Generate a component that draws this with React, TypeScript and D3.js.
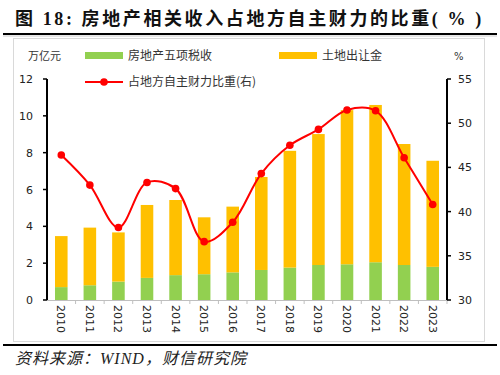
import React from "react";
import * as d3 from "d3";

const years = ["2010","2011","2012","2013","2014","2015","2016","2017","2018","2019","2020","2021","2022","2023"];
const taxValues = [0.7,0.8,1.0,1.2,1.35,1.4,1.5,1.63,1.76,1.9,1.94,2.05,1.9,1.8];
const landValues = [2.77,3.13,2.67,3.96,4.08,3.09,3.57,5.05,6.34,7.11,8.37,8.54,6.57,5.76];
const shareValues = [46.4,43.0,38.2,43.3,42.6,36.6,38.8,44.3,47.5,49.3,51.5,51.4,46.1,40.8];
const leftTicks = [0,2,4,6,8,10,12];
const rightTicks = [30,35,40,45,50,55];

const GREEN = "#92D050";
const ORANGE = "#FFC000";
const RED = "#FF0000";
const sans = "'DejaVu Sans', 'Noto Sans CJK SC', sans-serif";
const cjk = "'Noto Sans CJK SC', sans-serif";

export default function App() {
  const left = 47, right = 447, top = 79, bottom = 300;
  const x = d3.scaleBand<string>().domain(years).range([left, right]).paddingInner(0.56).paddingOuter(0.28);
  const band = d3.scaleBand<string>().domain(years).range([left, right]);
  const yL = d3.scaleLinear().domain([0, 12]).range([bottom, top]);
  const yR = d3.scaleLinear().domain([30, 55]).range([bottom, top]);
  const line = d3.line<number>()
    .x((_, i) => (band(years[i]) as number) + band.bandwidth() / 2)
    .y((d) => yR(d))
    .curve(d3.curveCatmullRom.alpha(0.5));

  return (
    <svg width={500} height={375} style={{ position: "absolute", left: 0, top: 0, background: "#fff" }}>
      <text x={15} y={25} fontFamily="'Liberation Serif', 'Noto Sans CJK SC', serif" fontWeight="bold" fontSize={18} letterSpacing={2.6} fill="#111">
        图 18: 房地产相关收入占地方自主财力的比重( % )
      </text>
      <line x1={3} x2={497} y1={34} y2={34} stroke="#000" strokeWidth={2} />
      <line x1={3} x2={497} y1={36} y2={36} stroke="#ccc" strokeWidth={1} />
      <rect x={13.5} y={38.5} width={471} height={303} fill="none" stroke="#d9d9d9" strokeWidth={1} />

      {/* legend */}
      <text x={28} y={60} fontFamily={cjk} fontSize={11} fill="#333">万亿元</text>
      <text x={454} y={60} fontFamily={sans} fontSize={10} fill="#333">%</text>
      <rect x={85} y={52} width={38} height={7} fill={GREEN} />
      <text x={128} y={60} fontFamily={cjk} fontSize={12} fill="#333">房地产五项税收</text>
      <rect x={279} y={52} width={38} height={7} fill={ORANGE} />
      <text x={322} y={60} fontFamily={cjk} fontSize={12} fill="#333">土地出让金</text>
      <line x1={85} x2={123} y1={82} y2={82} stroke={RED} strokeWidth={2} />
      <circle cx={104} cy={82} r={3.8} fill={RED} />
      <text x={128} y={86} fontFamily={cjk} fontSize={12} fill="#333">占地方自主财力比重(右)</text>

      {/* bars */}
      {years.map((yr, i) => (
        <g key={yr}>
          <rect x={x(yr)} width={x.bandwidth()} y={yL(taxValues[i])} height={yL(0) - yL(taxValues[i])} fill={GREEN} />
          <rect x={x(yr)} width={x.bandwidth()} y={yL(taxValues[i] + landValues[i])} height={yL(taxValues[i]) - yL(taxValues[i] + landValues[i])} fill={ORANGE} />
        </g>
      ))}

      {/* x axis */}
      <line x1={left} x2={right} y1={bottom + 0.5} y2={bottom + 0.5} stroke="#bfbfbf" strokeWidth={1} />
      {years.map((yr) => (
        <line key={"t" + yr} x1={(band(yr) as number) + band.bandwidth()} x2={(band(yr) as number) + band.bandwidth()} y1={bottom} y2={bottom + 4} stroke="#bfbfbf" />
      ))}
      {years.map((yr) => (
        <text key={"l" + yr} transform={`translate(${(band(yr) as number) + band.bandwidth() / 2 - 4},305) rotate(90)`} fontFamily={sans} fontSize={11} fill="#222">{yr}</text>
      ))}

      {/* left axis */}
      <line x1={left} x2={left} y1={top} y2={bottom} stroke="#000" strokeWidth={2} />
      {leftTicks.map((t) => (
        <g key={"lt" + t}>
          <line x1={left - 4} x2={left} y1={yL(t)} y2={yL(t)} stroke="#000" strokeWidth={1.5} />
          <text x={left - 14} y={yL(t) + 4} textAnchor="end" fontFamily={sans} fontSize={11} fill="#222">{t}</text>
        </g>
      ))}

      {/* right axis */}
      <line x1={right} x2={right} y1={top} y2={bottom} stroke="#000" strokeWidth={2} />
      {rightTicks.map((t) => (
        <g key={"rt" + t}>
          <line x1={right} x2={right + 4} y1={yR(t)} y2={yR(t)} stroke="#000" strokeWidth={1.5} />
          <text x={right + 11} y={yR(t) + 4} fontFamily={sans} fontSize={11} fill="#222">{t}</text>
        </g>
      ))}

      {/* line */}
      <path d={line(shareValues) as string} fill="none" stroke={RED} strokeWidth={2} />
      {shareValues.map((v, i) => (
        <circle key={"c" + i} cx={(band(years[i]) as number) + band.bandwidth() / 2} cy={yR(v)} r={3.8} fill={RED} />
      ))}

      {/* source */}
      <line x1={3} x2={497} y1={345} y2={345} stroke="#000" strokeWidth={2} />
      <text x={15} y={364} fontFamily="'Liberation Serif', 'Noto Sans CJK SC', serif" fontStyle="italic" fontSize={16} letterSpacing={1} fill="#222">资料来源：WIND，财信研究院</text>
    </svg>
  );
}
